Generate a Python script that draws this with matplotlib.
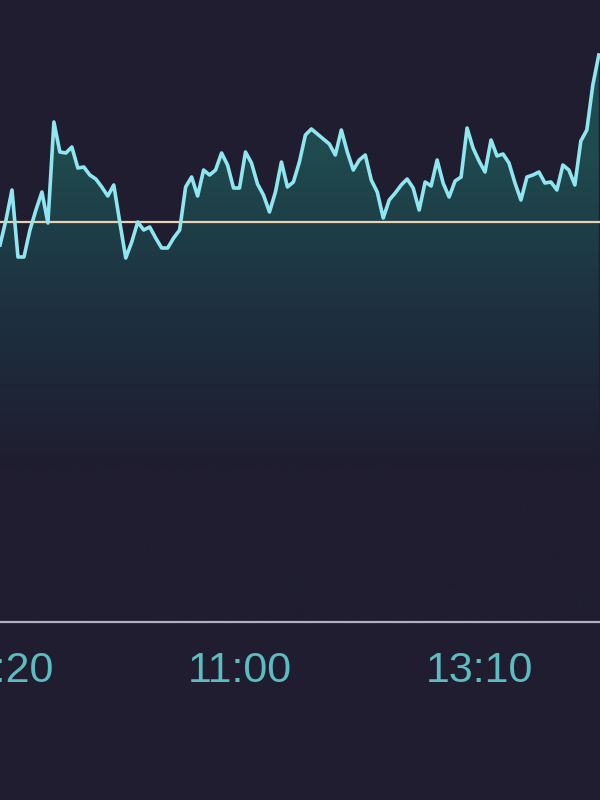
import numpy as np
import matplotlib
matplotlib.use('Agg')
import matplotlib.pyplot as plt
import matplotlib.colors as mcolors

# intraday price, one value per trading minute starting 10:20 (lunch break 11:30-13:00 skipped)
prices = [19.77, 20.02, 20.32, 19.65, 19.65, 19.92, 20.12, 20.30, 19.99, 21.00,
          20.70, 20.69, 20.75, 20.54, 20.55, 20.47, 20.43, 20.35, 20.26, 20.37,
          20.00, 19.64, 19.80, 20.00, 19.92, 19.95, 19.84, 19.74, 19.74, 19.84,
          19.92, 20.35, 20.45, 20.26, 20.52, 20.47, 20.52, 20.69, 20.57, 20.34,
          20.34, 20.70, 20.59, 20.38, 20.27, 20.10, 20.30, 20.60, 20.35, 20.40,
          20.60, 20.87, 20.93, 20.88, 20.83, 20.78, 20.67, 20.92, 20.70, 20.52,
          20.62, 20.67, 20.42, 20.30, 20.04, 20.22, 20.29, 20.37, 20.43, 20.34,
          20.12, 20.40, 20.36, 20.62, 20.39, 20.25, 20.41, 20.45, 20.94, 20.74,
          20.61, 20.50, 20.82, 20.66, 20.68, 20.59, 20.39, 20.22, 20.45, 20.47,
          20.50, 20.39, 20.40, 20.32, 20.57, 20.52, 20.37, 20.81, 20.92, 21.37,
          21.67]
prev_close = 20.00
tick_pos = [0, 40, 80]
tick_labels = ['10:20', '11:00', '13:10']

bg = '#1f1d2f'
line_col = '#8fe6ef'
fill_col = '#1f5053'

fig = plt.figure(figsize=(6, 8), dpi=100, facecolor=bg)
ax = fig.add_axes([0, 0.2225, 1, 0.7775], facecolor=bg)

x = np.arange(len(prices))
y = np.array(prices)
ymin, ymax = 16.0, 22.22
xmin, xmax = 0.0, 100.2

# gradient fill under the line
poly = ax.fill_between(x, y, ymin, color='none', lw=0)
cmap = mcolors.LinearSegmentedColormap.from_list('g', [bg, bg, '#1d3040', '#1f4a4e', fill_col])
grad = np.linspace(0, 1, 256).reshape(-1, 1)
img = ax.imshow(grad, aspect='auto', cmap=cmap, origin='lower',
                extent=[xmin, xmax, ymin, ymax], zorder=1)
img.set_clip_path(poly.get_paths()[0], transform=ax.transData)

ax.axhline(prev_close, color='#e6d3b4', lw=1.6, zorder=2)
ax.plot(x, y, color=line_col, lw=2.6, zorder=3)

ax.set_xlim(xmin, xmax)
ax.set_ylim(ymin, ymax)
for s in ['top', 'left', 'right']:
    ax.spines[s].set_visible(False)
ax.spines['bottom'].set_color('#b3aec2')
ax.spines['bottom'].set_linewidth(1.6)
ax.set_yticks([])
ax.set_xticks(tick_pos)
ax.set_xticklabels(tick_labels, fontsize=31, color='#5cbcbf', family='Liberation Sans')
ax.tick_params(axis='x', length=0, pad=21)

fig.savefig('out.png', dpi=100, facecolor=bg)
